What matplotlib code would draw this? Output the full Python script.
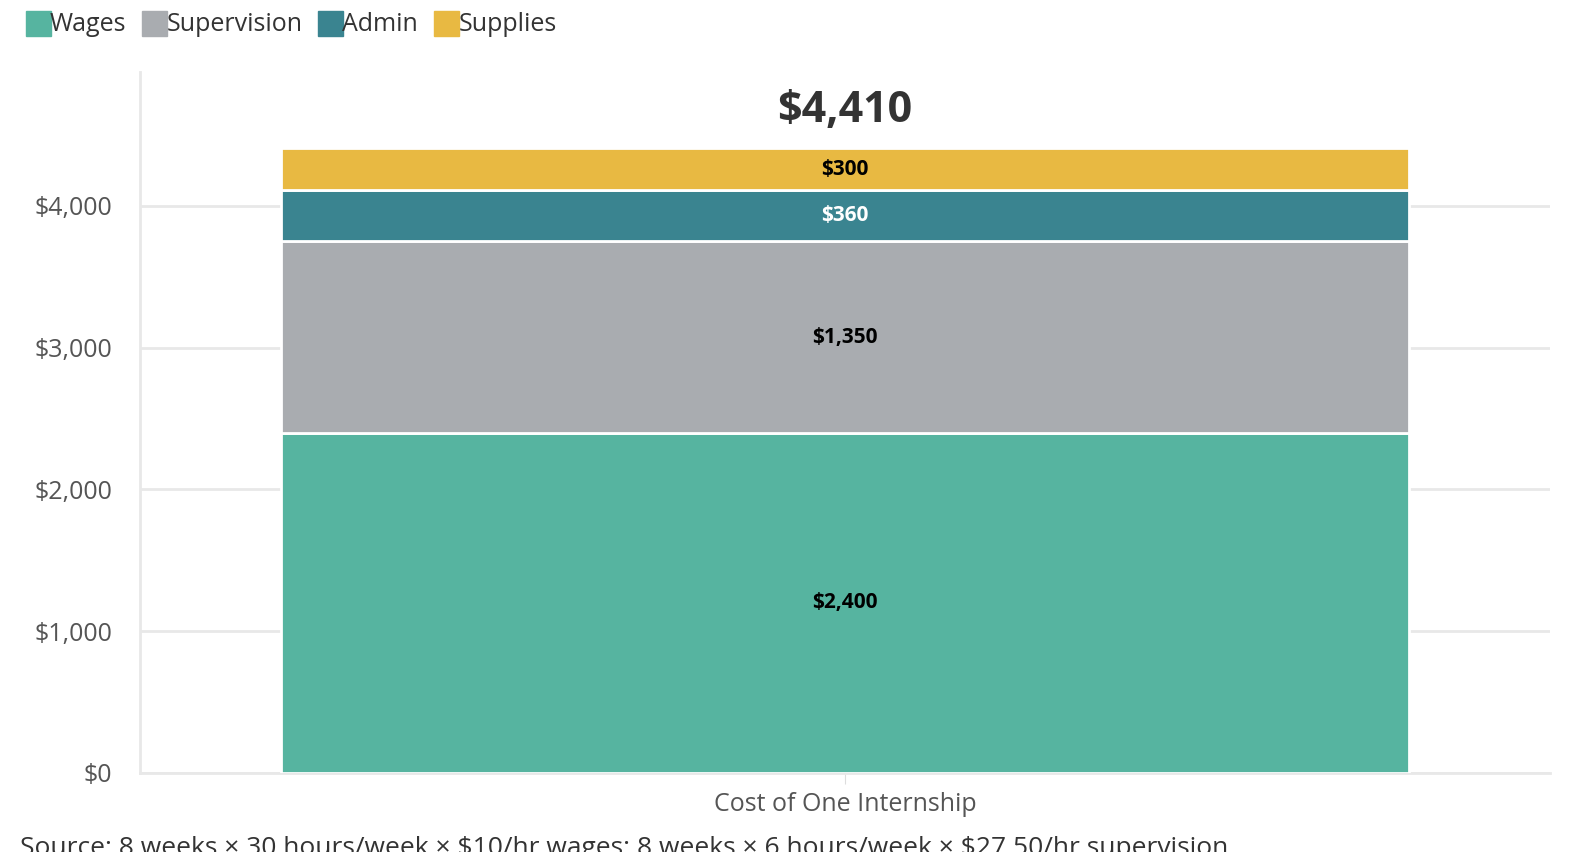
import matplotlib
matplotlib.use("Agg")
import matplotlib.pyplot as plt
from matplotlib.lines import Line2D

categories = ["Cost of One Internship"]
series = ["Wages", "Supervision", "Admin", "Supplies"]
values = [2400, 1350, 360, 300]
colors = ["#56b4a0", "#a9acb0", "#3a8490", "#e8b942"]
label_colors = ["black", "black", "white", "black"]
yticks = [0, 1000, 2000, 3000, 4000]

plt.rcParams['font.family'] = ['Open Sans', 'DejaVu Sans']
plt.rcParams['text.parse_math'] = False
fig = plt.figure(figsize=(15.76, 8.52), dpi=100)
ax = fig.add_axes([140/1576, 1-773/852, 1410/1576, (773-72)/852])

bottom = 0
for s, v, c, lc in zip(series, values, colors, label_colors):
    ax.bar(0, v, bottom=bottom, width=0.8, color=c, edgecolor="white", linewidth=2, zorder=3)
    ax.text(0, bottom + v/2, f"${v:,}", ha="center", va="center", fontsize=15,
            fontweight="bold", color=lc, zorder=4)
    bottom += v
ax.text(0, bottom + 260, f"${bottom:,}", ha="center", va="center", fontsize=31,
        fontweight="bold", color="#333333")

ax.set_xlim(-0.5, 0.5)
ax.set_ylim(0, 4945)
ax.set_yticks(yticks)
ax.set_yticklabels([f"${t:,}" for t in yticks], fontsize=18, color="#555555")
ax.set_xticks([0])
ax.set_xticklabels(categories, fontsize=18, color="#555555")
ax.tick_params(axis="y", length=0, pad=20)
ax.tick_params(axis="x", length=8, color="#dddddd", pad=6)
ax.grid(axis="y", color="#e8e8e8", linewidth=2, zorder=0)
for sp in ["top", "right"]:
    ax.spines[sp].set_visible(False)
for sp in ["left", "bottom"]:
    ax.spines[sp].set_color("#e8e8e8")
    ax.spines[sp].set_linewidth(2)

handles = [Line2D([0], [0], marker="s", linestyle="", markersize=18, markerfacecolor=c,
                  markeredgecolor=c) for c in colors]
fig.legend(handles, series, loc="upper left", bbox_to_anchor=(0.0, 1.012), ncol=4,
           frameon=False, fontsize=18, handletextpad=-0.1, columnspacing=0.5,
           handlelength=1.2, labelcolor="#333333")

fig.text(20/1576, 1-836/852, "Source: 8 weeks × 30 hours/week × $10/hr wages; 8 weeks × 6 hours/week × $27.50/hr supervision",
         fontsize=19, color="#333333", va="top")
fig.savefig("out.png", dpi=100)
